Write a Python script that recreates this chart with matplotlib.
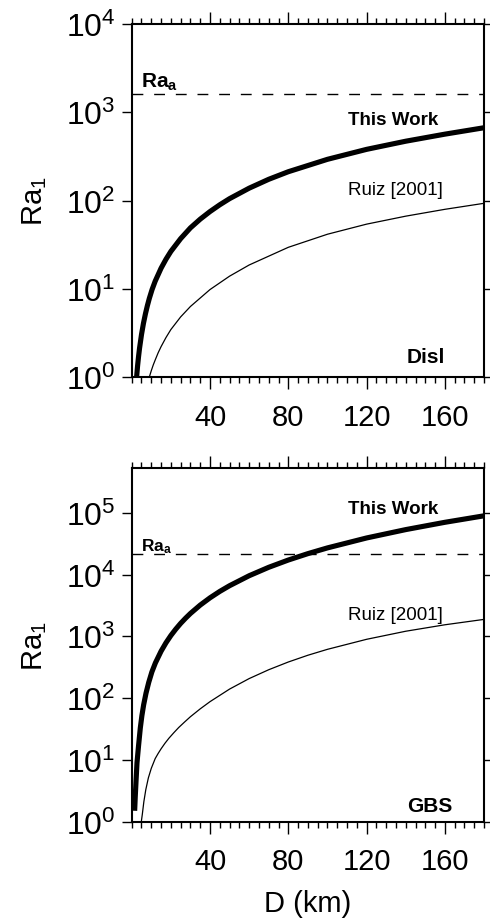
import matplotlib
matplotlib.use("Agg")
import matplotlib.pyplot as plt
from matplotlib.ticker import FixedLocator, MultipleLocator, NullLocator

plt.rcParams["font.family"] = ["Liberation Sans", "DejaVu Sans"]
plt.rcParams["mathtext.fontset"] = "custom"
plt.rcParams["mathtext.rm"] = "Liberation Sans"
plt.rcParams["mathtext.it"] = "Liberation Sans:italic"
plt.rcParams["mathtext.bf"] = "Liberation Sans:bold"

# ---- Dislocation creep (top panel) ----
disl_this_D = [2.5, 3, 3.5, 4, 5, 6, 7, 8, 9, 10.4, 12, 15, 17.5, 20, 25, 30,
               35, 40, 45, 50, 60, 70, 80, 100, 120, 140, 160, 180]
disl_this_Ra = [1, 1.34, 1.71, 2.12, 3.03, 4.06, 5.19, 6.43, 7.78, 9.8, 12.2,
                17.1, 21.6, 26.5, 37, 49, 61.5, 75, 89.5, 105, 138, 174, 212,
                293, 380, 470, 565, 668]
disl_ruiz_D = [9, 10, 11, 12, 13.5, 15, 17.5, 20, 25, 30, 40, 50, 60, 80,
               100, 120, 140, 160, 180]
disl_ruiz_Ra = [1, 1.18, 1.37, 1.56, 1.88, 2.21, 2.8, 3.45, 4.8, 6.3, 9.8,
                13.9, 18.6, 29.5, 41.5, 54, 66.5, 79.5, 93]
disl_Ra_a = 1630

# ---- Grain-boundary sliding (bottom panel) ----
gbs_this_D = [1.5, 1.8, 2.2, 2.7, 3.5, 4.4, 5.2, 6.1, 7.3, 8.7, 10.3, 12.1,
              15, 17.5, 20, 22.5, 25, 27.5, 30, 35, 40, 45, 50, 60, 70, 80,
              90, 100, 120, 140, 160, 180]
gbs_this_Ra = [1.5, 2.5, 4.5, 9, 17, 33, 52, 78, 120, 180, 265, 371,
               574, 785, 1030, 1306, 1620, 1963, 2345, 3205, 4200, 5335, 6600,
               9570, 13100, 17180, 21800, 27000, 39100, 53400, 70100, 89300]
gbs_ruiz_D = [4.9, 5.4, 6.2, 7.2, 8.5, 10, 12, 13.5, 15, 17, 19, 21.5, 24,
              27, 30, 35, 40, 50, 60, 70, 80, 90, 100, 120, 140, 160, 180]
gbs_ruiz_Ra = [1, 1.3, 2.1, 3.3, 5.1, 7.3, 10.5, 12.7, 15.1, 18.6, 22.4, 27.5,
               33.4, 41, 50, 67, 87.6, 140, 207, 288, 384, 494, 616, 895,
               1209, 1538, 1880]
gbs_Ra_a = 21500

x_ticks = [40, 80, 120, 160]
disl_y_exp = [0, 1, 2, 3, 4]
gbs_y_exp = [0, 1, 2, 3, 4, 5]

fig = plt.figure(figsize=(4.9, 9.2), dpi=100)
ax_top = fig.add_axes([0.2688, 0.5891, 0.719, 0.3837])
ax_bot = fig.add_axes([0.2688, 0.1058, 0.719, 0.3841])


def draw_panel(ax, D_this, Ra_this, D_ruiz, Ra_ruiz, Ra_a, y_exp, ymax):
    ax.set_yscale("log")
    ax.set_xlim(0, 180)
    ax.set_ylim(1, ymax)
    ax.plot(D_this, Ra_this, color="black", lw=3.7, solid_capstyle="butt",
            solid_joinstyle="round")
    ax.plot(D_ruiz, Ra_ruiz, color="black", lw=0.9, solid_joinstyle="round")
    ax.axhline(Ra_a, color="black", lw=1.0, dashes=(7.8, 7.8))

    for side in ax.spines.values():
        side.set_linewidth(1.5)

    ax.xaxis.set_major_locator(FixedLocator(x_ticks))
    ax.xaxis.set_minor_locator(MultipleLocator(5))
    ax.tick_params(axis="x", which="both", direction="out", top=True,
                   bottom=True, labeltop=False, width=1.0)
    ax.tick_params(axis="x", which="major", length=8.5, labelsize=21, pad=10)
    ax.tick_params(axis="x", which="minor", length=4.2)

    yt = [10.0 ** k for k in y_exp]
    ax.yaxis.set_major_locator(FixedLocator(yt))
    ax.yaxis.set_minor_locator(NullLocator())
    ax.set_yticklabels([rf"$10^{{{k}}}$" for k in y_exp])
    ax.tick_params(axis="y", which="major", direction="out", left=True,
                   right=False, length=7.5, width=1.0, labelsize=23, pad=4)

    ax.set_ylabel(r"Ra$_1$", fontsize=21)
    ax.yaxis.set_label_coords(-0.235, 0.5)

    # shorter outward ticks on the right-hand side
    twin = ax.twinx()
    twin.set_yscale("log")
    twin.set_ylim(1, ymax)
    twin.yaxis.set_major_locator(FixedLocator(yt))
    twin.yaxis.set_minor_locator(NullLocator())
    twin.tick_params(axis="y", which="major", direction="out", right=True,
                     length=4.3, width=1.0, labelright=False)
    for side in twin.spines.values():
        side.set_visible(False)


draw_panel(ax_top, disl_this_D, disl_this_Ra, disl_ruiz_D, disl_ruiz_Ra,
           disl_Ra_a, disl_y_exp, 1e4)
draw_panel(ax_bot, gbs_this_D, gbs_this_Ra, gbs_ruiz_D, gbs_ruiz_Ra,
           gbs_Ra_a, gbs_y_exp, 10 ** 5.72)

# annotations, top panel
ax_top.text(4.6, 1940, r"$\mathbf{Ra_a}$", fontsize=15, ha="left", va="baseline")
ax_top.text(110.5, 733, "This Work", fontsize=13.5, fontweight="bold",
            ha="left", va="baseline")
ax_top.text(110.5, 118, "Ruiz [2001]", fontsize=13.5, ha="left", va="baseline")
ax_top.text(140.6, 1.49, "Disl", fontsize=15, fontweight="bold",
            ha="left", va="baseline")

# annotations, bottom panel
ax_bot.text(4.6, 25100, r"$\mathbf{Ra_a}$", fontsize=12.5, ha="left",
            va="baseline")
ax_bot.text(110.5, 101000, "This Work", fontsize=13.5, fontweight="bold",
            ha="left", va="baseline")
ax_bot.text(110.5, 1905, "Ruiz [2001]", fontsize=13.5, ha="left", va="baseline")
ax_bot.text(140.6, 1.5, "GBS", fontsize=15, fontweight="bold",
            ha="left", va="baseline")

ax_bot.set_xlabel("D (km)", fontsize=21, labelpad=10)

fig.savefig("out.png", dpi=100)
